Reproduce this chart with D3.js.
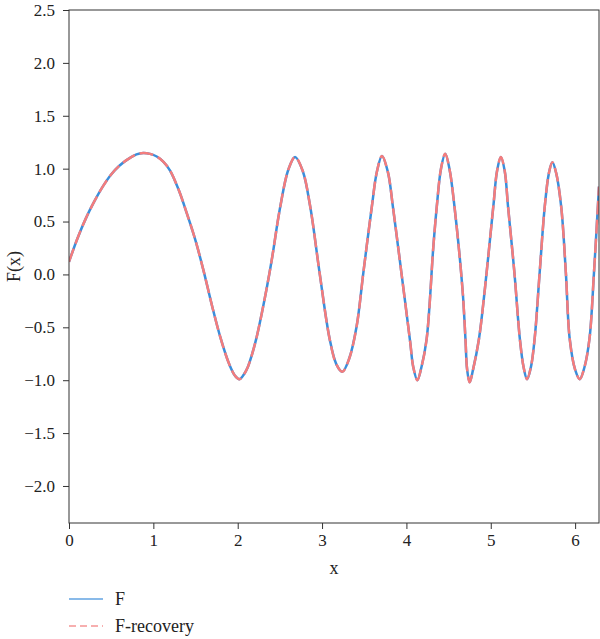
<!DOCTYPE html>
<html>
<head>
<meta charset="utf-8">
<script src="https://cdn.jsdelivr.net/npm/d3@7"></script>
<style>
  html, body { margin: 0; padding: 0; background: #fff; }
  svg text { font-family: 'Liberation Serif'; }
</style>
</head>
<body>
<svg id="chart" width="600" height="639"></svg>
<script>
const xValues = [0.00,0.10,0.20,0.30,0.40,0.50,0.60,0.70,0.80,0.88,0.96,1.04,1.12,1.20,1.30,1.40,1.50,1.60,1.70,1.80,1.90,1.97,2.02,2.10,2.20,2.30,2.40,2.50,2.60,2.68,2.77,2.86,2.97,3.09,3.17,3.24,3.32,3.41,3.49,3.59,3.65,3.71,3.78,3.84,3.94,4.045,4.08,4.13,4.18,4.24,4.32,4.36,4.41,4.46,4.51,4.57,4.665,4.70,4.72,4.75,4.79,4.86,4.93,5.03,5.075,5.12,5.165,5.205,5.28,5.345,5.39,5.43,5.475,5.52,5.58,5.64,5.69,5.73,5.775,5.835,5.89,5.936,6.00,6.055,6.11,6.17,6.224,6.283];
const fValues = [0.12,0.34,0.53,0.69,0.83,0.945,1.03,1.09,1.135,1.148,1.14,1.115,1.065,0.98,0.80,0.57,0.32,0.02,-0.31,-0.61,-0.85,-0.96,-0.99,-0.91,-0.67,-0.31,0.12,0.62,0.99,1.11,0.98,0.64,0.02,-0.61,-0.85,-0.92,-0.80,-0.49,0.02,0.64,0.97,1.12,0.97,0.64,0.02,-0.64,-0.87,-1.00,-0.87,-0.61,0.27,0.64,1.00,1.14,1.00,0.64,-0.14,-0.61,-0.90,-1.02,-0.90,-0.61,-0.14,0.64,0.98,1.11,0.98,0.64,0.02,-0.61,-0.88,-0.99,-0.88,-0.61,0.02,0.64,0.96,1.06,0.96,0.64,0.02,-0.61,-0.90,-0.99,-0.88,-0.61,0.02,0.83];
const fRecoveryValues = fValues.slice();
const xTicks = [0,1,2,3,4,5,6];
const yTicks = [-2.0,-1.5,-1.0,-0.5,0.0,0.5,1.0,1.5,2.0,2.5];
const seriesNames = ["F", "F-recovery"];

const FONT = "'Liberation Serif'";
const svg = d3.select("#chart");
const margin = {left: 69, right: 1, top: 10, bottom: 116};
const W = 600, H = 639;
const x = d3.scaleLinear().domain([0, 2*Math.PI]).range([margin.left, W - margin.right]);
const y = d3.scaleLinear().domain([-2.35, 2.5]).range([H - margin.bottom, margin.top]);

svg.append("defs").append("clipPath").attr("id","clip")
  .append("rect").attr("x", x.range()[0]).attr("y", margin.top)
  .attr("width", x.range()[1]-x.range()[0]).attr("height", y.range()[0]-margin.top);

const line = d3.line().x(d => x(d[0])).y(d => y(d[1])).curve(d3.curveCatmullRom.alpha(0.5));
const dataF = xValues.map((v,i) => [v, fValues[i]]);
const dataR = xValues.map((v,i) => [v, fRecoveryValues[i]]);

const blue = "#3b8edb", red = "#f47c7c";
const g = svg.append("g").attr("clip-path","url(#clip)");
g.append("path").datum(dataF).attr("d", line).attr("fill","none")
  .attr("stroke", blue).attr("stroke-width", 2.5);
g.append("path").datum(dataR).attr("d", line).attr("fill","none")
  .attr("stroke", red).attr("stroke-width", 2.5).attr("stroke-dasharray","14,5");

// axes
const xAxis = d3.axisBottom(x).tickValues(xTicks).tickFormat(d3.format("d")).tickSize(6).tickPadding(5);
const yAxis = d3.axisLeft(y).tickValues(yTicks).tickFormat(d3.format(".1f")).tickSize(6).tickPadding(8);
const gx = svg.append("g").attr("transform", `translate(0,${y.range()[0]})`).call(xAxis);
const gy = svg.append("g").attr("transform", `translate(${x.range()[0]},0)`).call(yAxis);
[gx, gy].forEach(a => {
  a.attr("font-family", null).attr("font-size", null);
  a.select(".domain").remove();
  a.selectAll(".tick line").attr("stroke","#333").attr("stroke-width",1);
  a.selectAll(".tick text").attr("fill","#222").style("font-family", FONT).style("font-size", "17px");
});
// frame
svg.append("rect").attr("x", x.range()[0]).attr("y", margin.top)
  .attr("width", x.range()[1]-x.range()[0]).attr("height", y.range()[0]-margin.top)
  .attr("fill","none").attr("stroke","#333").attr("stroke-width",1);

// labels
svg.append("text").attr("x", (x.range()[0]+x.range()[1])/2).attr("y", 574)
  .attr("text-anchor","middle").style("font-family", FONT).style("font-size","18px").attr("fill","#222").text("x");
svg.append("text").attr("transform", `translate(20,${(y.range()[0]+y.range()[1])/2}) rotate(-90)`)
  .attr("text-anchor","middle").style("font-family", FONT).style("font-size","18px").attr("fill","#222").text("F(x)");

// legend
const leg = svg.append("g");
const legY = [599, 626];
leg.append("line").attr("x1",69).attr("x2",103).attr("y1",legY[0]).attr("y2",legY[0])
  .attr("stroke", blue).attr("stroke-width",1.5).attr("opacity",0.8);
leg.append("line").attr("x1",69).attr("x2",103).attr("y1",legY[1]).attr("y2",legY[1])
  .attr("stroke", red).attr("stroke-width",1.5).attr("opacity",0.8).attr("stroke-dasharray","7,4");
seriesNames.forEach((n,i) => {
  leg.append("text").attr("x",115).attr("y",legY[i]+6).style("font-family", FONT).style("font-size","18px").attr("fill","#222").text(n);
});
</script>
</body>
</html>
